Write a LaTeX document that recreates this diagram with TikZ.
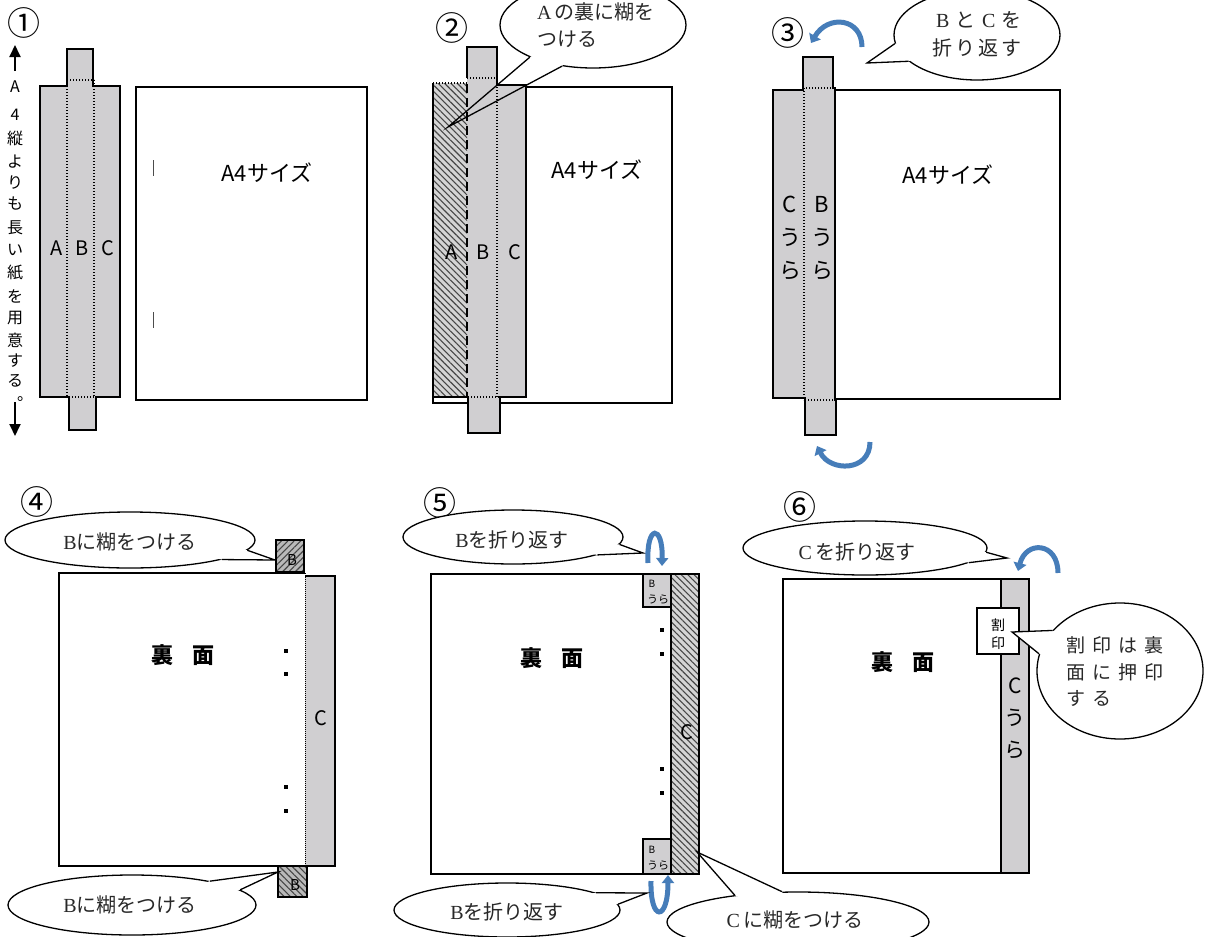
\documentclass[tikz,border=0pt]{standalone}
\usepackage{fontspec}
\setmainfont{Noto Sans CJK JP}
\newfontfamily\ser{Liberation Serif}
\usetikzlibrary{shapes.geometric,patterns.meta,arrows.meta,calc}
\definecolor{stripgray}{RGB}{208,207,209}
\definecolor{hatchbg}{RGB}{212,212,212}
\definecolor{hatchdarkbg}{RGB}{185,185,185}
\definecolor{hatchline}{RGB}{70,70,70}
\definecolor{foldblue}{RGB}{70,125,185}
\definecolor{calltext}{RGB}{40,40,40}
\newcommand\mkpointer[5]{%
  \fill[white] (#1.#2) -- ($(#1.#2)!#5!(#4)$) -- ($(#1.#3)!#5!(#4)$) -- (#1.#3) -- (#1.center) -- cycle;
  \draw[callline] (#1.#2) -- (#4) -- (#1.#3);
}
\begin{document}
\begin{tikzpicture}[x=1pt,y=-1pt,
  outline/.style={draw=black,line width=1.6pt,line join=miter},
  stripbox/.style={outline,fill=stripgray},
  pagebox/.style={outline,fill=white},
  foldline/.style={draw=black,line width=1.3pt,dash pattern=on 1.4pt off 1.6pt},
  thickdash/.style={draw=black,line width=2.4pt,dash pattern=on 9pt off 5pt},
  hatchNW/.style={preaction={fill=hatchbg},pattern={Lines[angle=-45,distance=4.5pt,line width=1.1pt]},pattern color=hatchline},
  hatchDNE/.style={preaction={fill=hatchdarkbg},pattern={Lines[angle=45,distance=4.5pt,line width=1.1pt]},pattern color=hatchline},
  hatchDNW/.style={preaction={fill=hatchdarkbg},pattern={Lines[angle=-45,distance=4.5pt,line width=1.1pt]},pattern color=hatchline},
  callout/.style={ellipse,draw=black,fill=white,line width=1.3pt,inner sep=0pt},
  callline/.style={draw=black,line width=1.3pt,line join=miter},
  ctext/.style={text=calltext,font=\fontsize{20}{27}\selectfont,inner sep=0pt},
  num/.style={font=\fontsize{33}{33}\selectfont,inner sep=0pt},
  lbl/.style={font=\fontsize{20}{20}\selectfont,inner sep=0pt},
  big/.style={font=\fontsize{22}{22}\selectfont,inner sep=0pt},
  ura/.style={font=\fontsize{22}{33}\selectfont,align=center,inner sep=0pt},
  omote/.style={font=\fontsize{22}{22}\selectfont\bfseries,inner sep=0pt},
  vt/.style={font=\fontsize{16}{16}\selectfont,inner sep=0pt},
  arrowline/.style={line width=1.8pt,-{Triangle[length=12pt,width=11pt]}},
  bluearc/.style={draw=foldblue,line width=5pt,-{Triangle[length=8pt,width=13pt]}},
  dotmark/.style={fill=black}
]
\useasboundingbox (0,0) rectangle (1213,937);
\clip (0,0) rectangle (1213,937);

% ---------------- Panel 1 ----------------
\node[num] (n1) at (24,23) {①};
\coordinate (up1) at (15,71);
\coordinate (up2) at (15,45);
\coordinate (dn1) at (15,402);
\coordinate (dn2) at (15,436);
\draw[arrowline] (up1) -- (up2);
\draw[arrowline] (dn1) -- (dn2);
\foreach \ch/\yy [count=\i] in {A/87,4/115,縦/138,よ/162,り/183,も/204,長/228,い/250,紙/273,を/296,用/318,意/340,す/361,る/381}
  \node[vt] (v\i) at (15,\yy) {\ch};
\node[vt] (vend) at (25,399) {。};

\draw[stripbox] (40,86) -- (67,86) -- (67,49) -- (93,49) -- (93,86) -- (120,86) -- (120,397) -- (96,397) -- (96,430) -- (69,430) -- (69,397) -- (40,397) -- cycle;
\draw[foldline] (67,80) -- (94,80);
\draw[foldline] (67,80) -- (67,397);
\draw[foldline] (94,80) -- (94,397);
\draw[foldline] (69,397) -- (96,397);
\node[lbl] (a1) at (57,248) {A};
\node[lbl] (b1) at (82,248) {B};
\node[lbl] (c1) at (108,248) {C};
\draw[pagebox] (136,87) rectangle (367,400);
\node[big] (p1t) at (267,173) {A4サイズ};
\draw[gray!60!black,line width=1pt] (153,160) -- (153,176);
\draw[gray!60!black,line width=1pt] (153,312) -- (153,328);

% ---------------- Panel 2 ----------------
\node[num] (n2) at (452,28) {②};
\draw[pagebox] (433,87) rectangle (672,403);
\fill[stripgray] (467,83) -- (467,47) -- (497,47) -- (497,85) -- (526,85) -- (526,397) -- (500,397) -- (500,433) -- (468,433) -- (468,397) -- (467,397) -- cycle;
\draw[outline] (467,78) -- (467,47) -- (497,47) -- (497,85) -- (526,85) -- (526,397) -- (500,397) -- (500,433) -- (468,433) -- (468,397);
\path[hatchNW] (433,83) rectangle (467,397);
\draw[outline] (433,83) -- (433,397) -- (468,397);
\draw[foldline] (433,83) -- (467,83);
\draw[thickdash] (467,84) -- (467,396);
\draw[foldline] (467,78) -- (497,78);
\draw[foldline] (497,78) -- (497,397);
\draw[foldline] (468,397) -- (500,397);
\node[lbl] (a2) at (452,252) {A};
\node[lbl] (b2) at (483,252) {B};
\node[lbl] (c2l) at (515,252) {C};
\node[big] (p2t) at (597,170) {A4サイズ};
\node[callout,minimum width=186pt,minimum height=86pt] (c2) at (593,25) {};
\coordinate (t2) at (448,127);
\mkpointer{c2}{207}{233}{t2}{0.15}
\node[ctext,anchor=west,align=left] (c2t) at (537,25) {{\ser A}\,の裏に糊を\\つける};

% ---------------- Panel 3 ----------------
\node[num] (n3) at (788,33) {③};
\draw[stripbox] (773,90) -- (803,90) -- (803,57) -- (833,57) -- (833,88) -- (835,88) -- (835,400) -- (836,400) -- (836,435) -- (805,435) -- (805,398) -- (773,398) -- cycle;
\draw[pagebox] (835,90) rectangle (1060,399);
\draw[foldline] (803,88) -- (835,88);
\draw[foldline] (804,88) -- (804,400);
\draw[foldline] (805,400) -- (836,400);
\node[ura] (c3l) at (790,238) {C\\う\\ら};
\node[ura] (b3l) at (822,238) {B\\う\\ら};
\node[big] (p3t) at (948,175) {A4サイズ};
\coordinate (f3a) at (862,47);
\coordinate (f3b) at (811,43);
\draw[bluearc] (f3a) .. controls (862,18) and (828,14) .. (f3b);
\coordinate (f3c) at (870,442);
\coordinate (f3d) at (817,446);
\draw[bluearc] (f3c) .. controls (870,472) and (830,472) .. (f3d);
\node[callout,minimum width=166pt,minimum height=90pt] (c3) at (977,35) {};
\coordinate (t3) at (867,63);
\mkpointer{c3}{186}{201}{t3}{1}
\node[ctext,anchor=west,align=left,font=\fontsize{20}{28}\selectfont] (c3t) at (931,34) {\makebox[23pt]{\ser B}\makebox[23pt]{と}\makebox[23pt]{\ser C}\makebox[23pt]{を}\\\makebox[23pt]{折}\makebox[23pt]{り}\makebox[23pt]{返}\makebox[23pt]{す}};

% ---------------- Panel 4 ----------------
\node[num] (n4) at (37,502) {④};
\node[callout,minimum width=250pt,minimum height=56pt] (c4a) at (130,540) {};
\coordinate (t4a) at (275,560);
\mkpointer{c4a}{355}{348}{t4a}{1}
\node[ctext] (c4at) at (130,542) {{\ser B}に糊をつける};
\path[hatchDNE,outline] (276,540) rectangle (304,572);
\node[font=\fontsize{15}{15}\selectfont,inner sep=0pt] (b4a) at (292,560) {B};
\fill[white] (59,573) rectangle (305,866);
\draw[outline] (305,573) -- (59,573) -- (59,866) -- (305,866);
\fill[stripgray] (305,576) rectangle (335,866);
\draw[outline] (305,576) -- (335,576) -- (335,866) -- (305,866);
\draw[black,line width=0.8pt,dash pattern=on 1pt off 1pt] (305,573) -- (305,866);
\node[lbl] (c4l) at (321,718) {C};
\node[omote] (u4) at (183,655) {裏\hspace{19pt}面};
\fill[dotmark] (284,649) rectangle +(4,4);
\fill[dotmark] (284,672) rectangle +(4,4);
\fill[dotmark] (284,785) rectangle +(4,4);
\fill[dotmark] (284,809) rectangle +(4,4);
\path[hatchDNW,outline] (278,866) rectangle (307,897);
\node[font=\fontsize{15}{15}\selectfont,inner sep=0pt] (b4b) at (295,885) {B};
\node[callout,minimum width=248pt,minimum height=60pt] (c4b) at (132,905) {};
\coordinate (t4b) at (278,872);
\mkpointer{c4b}{17}{8.4}{t4b}{1}
\node[ctext] (c4bt) at (130,905) {{\ser B}に糊をつける};

% ---------------- Panel 5 ----------------
\node[num] (n5) at (440,503) {⑤};
\node[callout,minimum width=220pt,minimum height=54pt] (c5a) at (513,537) {};
\coordinate (t5a) at (643,553);
\mkpointer{c5a}{356.8}{348.3}{t5a}{1}
\node[ctext] (c5at) at (512,540) {{\ser B}を折り返す};
\coordinate (f5a) at (648,563);
\coordinate (f5b) at (662,566);
\draw[bluearc,line width=5pt,-{Triangle[length=8pt,width=12pt]}] (f5a) .. controls (646,524) and (663,524) .. (f5b);
\draw[pagebox] (431,574) rectangle (671,874);
\path[hatchNW,outline] (671,574) rectangle (699,874);
\draw[stripbox,line width=1.5pt] (643,574) rectangle (671,607);
\draw[stripbox,line width=1.5pt] (643,839) rectangle (671,874);
\node[font=\fontsize{10}{10}\selectfont,inner sep=0pt] (b5a) at (652,584) {B};
\node[font=\fontsize{11}{11}\selectfont,inner sep=0pt] (u5a) at (658,600) {うら};
\node[font=\fontsize{10}{10}\selectfont,inner sep=0pt] (b5b) at (652,850) {B};
\node[font=\fontsize{11}{11}\selectfont,inner sep=0pt] (u5b) at (658,866) {うら};
\node[omote] (u5) at (552,658) {裏\hspace{19pt}面};
\fill[dotmark] (660,628) rectangle +(4,4);
\fill[dotmark] (660,652) rectangle +(4,4);
\fill[dotmark] (660,767) rectangle +(4,4);
\fill[dotmark] (660,791) rectangle +(4,4);
\node[lbl] (c5l) at (687,732) {C};
\coordinate (f5c) at (651,881);
\coordinate (f5d) at (668,875);
\draw[bluearc,line width=5pt,-{Triangle[length=8pt,width=12pt]}] (f5c) .. controls (650,922) and (668,922) .. (f5d);
\node[callout,minimum width=226pt,minimum height=54pt] (c5b) at (507,910) {};
\coordinate (t5b) at (647,893);
\mkpointer{c5b}{11}{3.5}{t5b}{1}
\node[ctext] (c5bt) at (507,912) {{\ser B}を折り返す};
\node[callout,minimum width=262pt,minimum height=60pt] (c5c) at (798,922) {};
\coordinate (t5c) at (697,852);
\mkpointer{c5c}{157.4}{118}{t5c}{0.6}
\node[ctext] (c5ct) at (795,920) {{\ser C}\,に糊をつける};

% ---------------- Panel 6 ----------------
\node[num] (n6) at (800,507) {⑥};
\node[callout,minimum width=244pt,minimum height=54pt] (c6a) at (865,548) {};
\coordinate (t6a) at (1007,558);
\mkpointer{c6a}{358.1}{352.4}{t6a}{1}
\node[ctext] (c6at) at (857,552) {{\ser C}\,を折り返す};
\coordinate (f6a) at (1058,573);
\coordinate (f6b) at (1018,571);
\draw[bluearc] (f6a) .. controls (1058,542) and (1026,540) .. (f6b);
\draw[pagebox] (783,579) rectangle (1001,873);
\draw[stripbox] (1001,579) rectangle (1029,873);
\node[ura,font=\fontsize{21}{32}\selectfont] (c6l) at (1015,718) {C\\う\\ら};
\node[omote] (u6) at (903,662) {裏\hspace{19pt}面};
\draw[fill=white,draw=black,line width=1.2pt] (977,608) rectangle (1019,654);
\node[font=\fontsize{14}{14}\selectfont,inner sep=0pt] (w1) at (998,625) {割};
\node[font=\fontsize{14}{14}\selectfont,inner sep=0pt] (w2) at (998,643) {印};
\node[callout,minimum width=166pt,minimum height=136pt] (c6b) at (1120,671) {};
\coordinate (t6b) at (1012,632);
\mkpointer{c6b}{149.8}{168.7}{t6b}{1}
\node[ctext,anchor=west,align=left,font=\fontsize{19}{26.5}\selectfont] (c6bt) at (1066,672) {\makebox[26pt][l]{割}\makebox[26pt][l]{印}\makebox[26pt][l]{は}\makebox[26pt][l]{裏}\\\makebox[26pt][l]{面}\makebox[26pt][l]{に}\makebox[26pt][l]{押}\makebox[26pt][l]{印}\\\makebox[26pt][l]{す}\makebox[26pt][l]{る}};
\end{tikzpicture}
\end{document}
